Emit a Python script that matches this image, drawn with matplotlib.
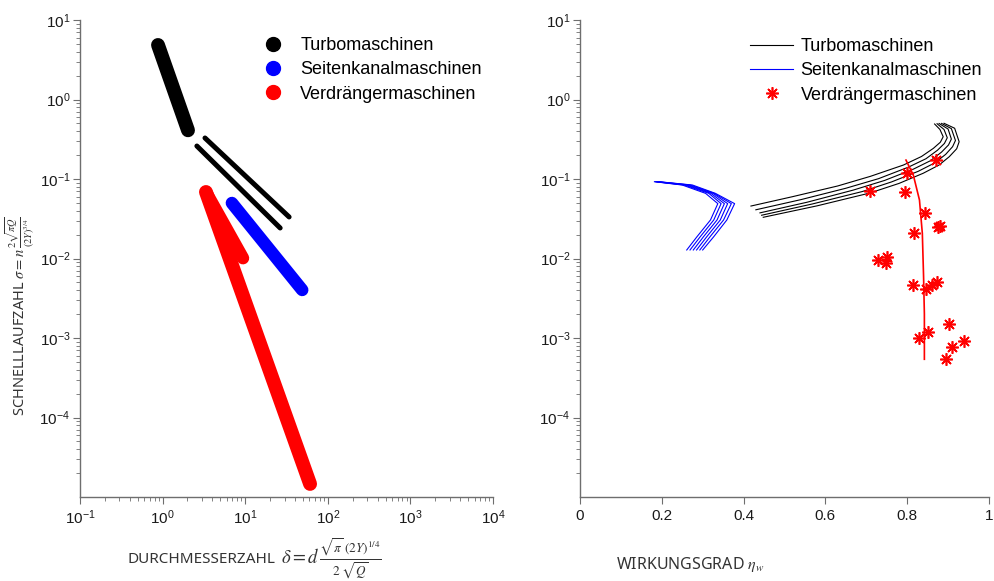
import numpy as np
import matplotlib
matplotlib.use("Agg")
import matplotlib.pyplot as plt
from matplotlib.lines import Line2D
from matplotlib.ticker import LogLocator, NullFormatter, FuncFormatter

plt.rcParams['font.family'] = ['Liberation Sans', 'DejaVu Sans']
plt.rcParams['mathtext.fontset'] = 'stix'
plt.rcParams['mathtext.default'] = 'it'

AXIS_GREY = '#6e6e6e'
TEXT_DARK = '#1a1a1a'
LABEL_GREY = '#333333'
LABEL_FONT = ['Noto Sans', 'DejaVu Sans']

# --- left chart: Cordier-like diagram (delta, sigma) ---
turbo_1_delta = [0.88, 2.03]
turbo_1_sigma = [4.85, 0.41]
turbo_2_delta = [3.26, 34.0]
turbo_2_sigma = [0.328, 0.0333]
turbo_3_delta = [2.6, 26.5]
turbo_3_sigma = [0.26, 0.0242]
seiten_delta = [6.9, 49.0]
seiten_sigma = [0.0499, 0.00402]
verdr_main_delta = [3.35, 61.0]
verdr_main_sigma = [0.0686, 1.46e-5]
verdr_branch_delta = [3.35, 9.4]
verdr_branch_sigma = [0.0686, 0.0101]

# --- right chart: efficiency vs sigma ---
turbo_eta = [
    [0.418, 0.520, 0.630, 0.710, 0.791, 0.835, 0.864, 0.881, 0.888, 0.880, 0.867],
    [0.430, 0.540, 0.650, 0.730, 0.803, 0.846, 0.874, 0.891, 0.898, 0.890, 0.873],
    [0.440, 0.555, 0.668, 0.745, 0.815, 0.857, 0.884, 0.901, 0.908, 0.900, 0.878],
    [0.444, 0.568, 0.690, 0.762, 0.827, 0.868, 0.894, 0.911, 0.918, 0.908, 0.884],
    [0.448, 0.580, 0.709, 0.780, 0.839, 0.878, 0.903, 0.921, 0.927, 0.916, 0.890],
]
turbo_sig = [
    [0.0457, 0.0600, 0.0817, 0.108, 0.150, 0.192, 0.243, 0.290, 0.340, 0.420, 0.492],
    [0.0410, 0.0550, 0.0765, 0.101, 0.141, 0.180, 0.230, 0.280, 0.330, 0.420, 0.496],
    [0.0375, 0.0510, 0.0725, 0.096, 0.133, 0.170, 0.218, 0.268, 0.318, 0.425, 0.499],
    [0.0350, 0.0485, 0.0695, 0.092, 0.125, 0.160, 0.204, 0.255, 0.305, 0.430, 0.500],
    [0.0330, 0.0460, 0.0667, 0.088, 0.118, 0.150, 0.191, 0.240, 0.294, 0.435, 0.502],
]
seiten_eta = [
    [0.182, 0.250, 0.307, 0.337, 0.319, 0.286, 0.261],
    [0.184, 0.255, 0.315, 0.345, 0.327, 0.294, 0.269],
    [0.186, 0.260, 0.320, 0.353, 0.335, 0.302, 0.277],
    [0.188, 0.265, 0.325, 0.361, 0.343, 0.310, 0.285],
    [0.190, 0.270, 0.328, 0.370, 0.351, 0.318, 0.293],
    [0.192, 0.275, 0.331, 0.378, 0.359, 0.327, 0.300],
]
seiten_sig = [0.0925, 0.084, 0.066, 0.049, 0.0305, 0.0188, 0.0128]
verdr_line_eta = [0.797, 0.815, 0.830, 0.837, 0.840, 0.842, 0.842]
verdr_line_sig = [0.173, 0.112, 0.0544, 0.0207, 0.006, 0.002, 0.00054]
verdr_pts_eta = [0.870, 0.799, 0.709, 0.795, 0.843, 0.876, 0.881, 0.817, 0.728, 0.751, 0.749,
                 0.814, 0.847, 0.860, 0.872, 0.902, 0.852, 0.829, 0.940, 0.910, 0.896]
verdr_pts_sig = [0.173, 0.120, 0.0713, 0.0693, 0.0377, 0.0251, 0.0257, 0.0211, 0.00957, 0.0105, 0.00886,
                 0.00464, 0.00409, 0.00464, 0.00512, 0.0015, 0.0012, 0.00101, 0.000917, 0.000764, 0.000544]

labels = ['Turbomaschinen', 'Seitenkanalmaschinen', 'Verdrängermaschinen']

decade_fmt = FuncFormatter(lambda v, pos: r'$\mathregular{10^{%d}}$' % round(np.log10(v)))


def style_axes(ax):
    for s in ['top', 'right']:
        ax.spines[s].set_visible(False)
    for s in ['left', 'bottom']:
        ax.spines[s].set_color(AXIS_GREY)
        ax.spines[s].set_linewidth(1.0)
    ax.tick_params(which='both', direction='out', colors=AXIS_GREY, labelcolor=TEXT_DARK, labelsize=11)
    ax.tick_params(which='major', length=5)
    ax.tick_params(which='minor', length=3)
    ax.tick_params(axis='y', pad=2)
    ax.set_yscale('log')
    ax.set_ylim(1.0e-5, 10)
    ax.set_yticks([1e-4, 1e-3, 1e-2, 1e-1, 1e0, 1e1])
    ax.yaxis.set_major_formatter(decade_fmt)
    ax.yaxis.set_minor_locator(LogLocator(base=10, subs=np.arange(2, 10), numticks=20))
    ax.yaxis.set_minor_formatter(NullFormatter())


fig = plt.figure(figsize=(9.95, 5.81), dpi=100)
ax1 = fig.add_axes([80 / 995, 84 / 581, 413 / 995, 477 / 581])
ax2 = fig.add_axes([580 / 995, 84 / 581, 409 / 995, 477 / 581])

# left chart
round_kw = dict(solid_capstyle='round')
ax1.plot(turbo_1_delta, turbo_1_sigma, color='black', lw=10, **round_kw)
ax1.plot(turbo_2_delta, turbo_2_sigma, color='black', lw=3.6, **round_kw)
ax1.plot(turbo_3_delta, turbo_3_sigma, color='black', lw=3.6, **round_kw)
ax1.plot(seiten_delta, seiten_sigma, color='#0000ff', lw=9, **round_kw)
ax1.plot(verdr_main_delta, verdr_main_sigma, color='#ff0000', lw=10, **round_kw)
ax1.plot(verdr_branch_delta, verdr_branch_sigma, color='#ff0000', lw=9, **round_kw)
ax1.set_xscale('log')
ax1.set_xlim(0.1, 1e4)
style_axes(ax1)
ax1.xaxis.set_major_formatter(decade_fmt)
ax1.xaxis.set_minor_locator(LogLocator(base=10, subs=np.arange(2, 10), numticks=20))
ax1.xaxis.set_minor_formatter(NullFormatter())

h1 = [Line2D([], [], ls='none', marker='o', ms=10, color=c) for c in ['black', '#0000ff', '#ff0000']]
ax1.legend(h1, labels, loc='upper left', bbox_to_anchor=(0.424, 0.964), frameon=False,
           fontsize=13, borderpad=0, borderaxespad=0, handletextpad=0.5, labelspacing=0.4)

# axis titles: word part in a sans font, formula part in a larger math font
ax1.text(0.114, -0.13, 'DURCHMESSERZAHL', transform=ax1.transAxes, ha='left', va='center',
         fontsize=11, color=LABEL_GREY, family=LABEL_FONT)
ax1.text(0.487, -0.13, r'$\delta = d\,\frac{\sqrt{\pi}\;(2Y)^{1/4}}{2\;\sqrt{Q}}$',
         transform=ax1.transAxes, ha='left', va='center', fontsize=13.5, color=LABEL_GREY)
ax1.text(-0.143, 0.38, r'SCHNELLLAUFZAHL $\sigma = n\,\frac{2\sqrt{\pi Q}}{(2Y)^{3/4}}$',
         transform=ax1.transAxes, ha='center', va='center', rotation=90,
         fontsize=10.5, color=LABEL_GREY, family=LABEL_FONT)

# right chart
for e, s in zip(turbo_eta, turbo_sig):
    ax2.plot(e, s, color='black', lw=0.8)
for e in seiten_eta:
    ax2.plot(e, seiten_sig, color='#0000ff', lw=0.8)
ax2.plot(verdr_line_eta, verdr_line_sig, color='#ff0000', lw=1.2)
ax2.plot(verdr_pts_eta, verdr_pts_sig, ls='none', marker=(8, 2, 0), ms=9, mew=1.2, color='#ff0000')
ax2.set_xlim(0, 1)
style_axes(ax2)
ax2.set_xticks([0, 0.2, 0.4, 0.6, 0.8, 1])
ax2.set_xticklabels(['0', '0.2', '0.4', '0.6', '0.8', '1'])

h2 = [Line2D([], [], color='black', lw=0.8),
      Line2D([], [], color='#0000ff', lw=0.8),
      Line2D([], [], ls='none', marker=(8, 2, 0), ms=9, mew=1.2, color='#ff0000')]
ax2.legend(h2, labels, loc='upper left', bbox_to_anchor=(0.416, 0.962), frameon=False,
           fontsize=13, borderpad=0, borderaxespad=0, handlelength=2.4, handletextpad=0.4,
           labelspacing=0.4)

ax2.set_xlabel(r'WIRKUNGSGRAD $\eta_w$', fontsize=11.5, color=LABEL_GREY, family=LABEL_FONT)
ax2.xaxis.set_label_coords(0.269, -0.122)

fig.savefig('out.png', dpi=100)
